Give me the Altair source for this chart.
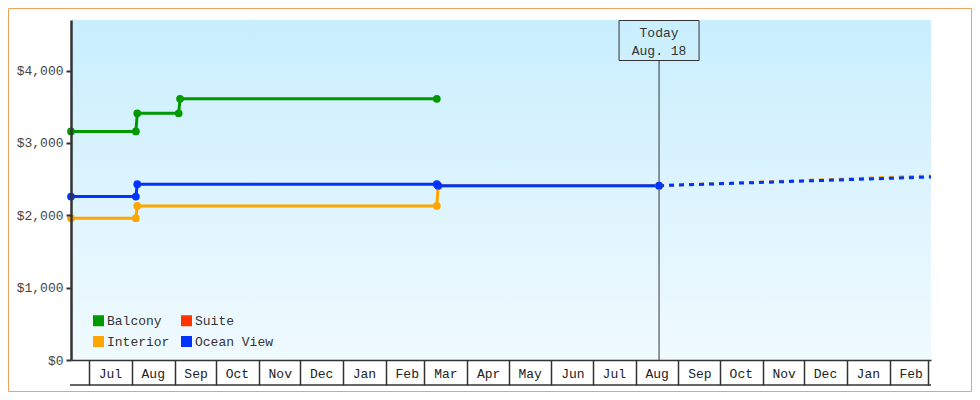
import altair as alt
import pandas as pd

# ---------------- data ----------------
cabins = ["Balcony", "Suite", "Interior", "Ocean View"]
cabin_colors = ["#009900", "#ff3300", "#ffa500", "#0033ff"]

balcony_dates = ["2021-06-18", "2021-08-04", "2021-08-05", "2021-09-04", "2021-09-05", "2022-03-10"]
balcony_prices = [3160, 3160, 3410, 3410, 3610, 3610]

interior_dates = ["2021-06-18", "2021-08-04", "2021-08-05", "2022-03-10", "2022-03-11", "2022-08-18"]
interior_prices = [1960, 1960, 2130, 2130, 2410, 2410]

ocean_dates = ["2021-06-18", "2021-08-04", "2021-08-05", "2022-03-10", "2022-03-11", "2022-08-18"]
ocean_prices = [2260, 2260, 2430, 2430, 2410, 2410]

forecast_dates = ["2022-08-18", "2023-03-03"]
interior_forecast = [2410, 2545]
ocean_forecast = [2410, 2530]

month_ticks = ["2021-07-01", "2021-08-01", "2021-09-01", "2021-10-01", "2021-11-01", "2021-12-01",
               "2022-01-01", "2022-02-01", "2022-03-01", "2022-04-01", "2022-05-01", "2022-06-01",
               "2022-07-01", "2022-08-01", "2022-09-01", "2022-10-01", "2022-11-01", "2022-12-01",
               "2023-01-01", "2023-02-01", "2023-03-01"]
x_domain = ["2021-06-18", "2023-03-03"]
y_ticks = [0, 1000, 2000, 3000, 4000]
y_max = 4700

today = "2022-08-18"
today_label = "Today\nAug. 18"

# ---------------- helpers ----------------
def ms(d):
    return int(pd.Timestamp(d, tz="UTC").timestamp() * 1000)

W, H = 860, 340
FONT = "Liberation Mono"

solid = pd.DataFrame({
    "date": balcony_dates + interior_dates + ocean_dates,
    "price": balcony_prices + interior_prices + ocean_prices,
    "cabin": ["Balcony"] * len(balcony_dates) + ["Interior"] * len(interior_dates)
             + ["Ocean View"] * len(ocean_dates),
})
forecast = pd.DataFrame({
    "date": forecast_dates + forecast_dates,
    "price": interior_forecast + ocean_forecast,
    "cabin": ["Interior"] * len(forecast_dates) + ["Ocean View"] * len(forecast_dates),
})
today_df = pd.DataFrame({"date": [today], "label": [today_label]})

last_tick = ms(month_ticks[-1])
x_scale = alt.Scale(type="utc", domain=[ms(x_domain[0]), ms(x_domain[1])], nice=False)
x_axis = alt.Axis(
    values=[ms(d) for d in month_ticks],
    labelExpr=f"datum.value >= {last_tick} ? '' : utcFormat(datum.value, '%b')",
    title=None, grid=False, zindex=1,
    tickSize=25, tickWidth=1.5, tickColor="#333",
    domainColor="#333", domainWidth=1.5,
    labelPadding=-12, labelBaseline="middle", labelAlign="center", labelOffset=21,
    labelFlush=False, labelOverlap=False, labelBound=False,
    labelFont=FONT, labelFontSize=13, labelColor="#222",
)
y_scale = alt.Scale(domain=[0, y_max], nice=False, zero=True)
y_axis = alt.Axis(
    values=y_ticks, format="$,.0f", title=None, grid=False, zindex=1,
    domainColor="#333", domainWidth=2.5,
    tickColor="#333", tickWidth=2, tickSize=5, labelPadding=3,
    labelFont=FONT, labelFontSize=13, labelColor="#444",
)
X = alt.X("date:T", scale=x_scale, axis=x_axis)
Y = alt.Y("price:Q", scale=y_scale, axis=y_axis)
color_scale = alt.Scale(domain=cabins, range=cabin_colors)
legend = alt.Legend(
    orient="none", legendX=21, legendY=294, columns=2, direction="horizontal", title=None,
    symbolType="square", symbolSize=121, symbolStrokeWidth=0, symbolOpacity=1,
    labelFont=FONT, labelFontSize=13, labelColor="#333", labelOffset=2,
    rowPadding=7, columnPadding=10, padding=0,
)
COLOR = alt.Color("cabin:N", scale=color_scale, legend=legend)

gradient = alt.Gradient(
    gradient="linear", x1=0, x2=0, y1=0, y2=1,
    stops=[alt.GradientStop(color="#c9eefd", offset=0),
           alt.GradientStop(color="#f0faff", offset=1)],
)

bg = alt.Chart(today_df).mark_rect(color=gradient).encode(
    x=alt.value(0), x2=alt.value(W), y=alt.value(0), y2=alt.value(H))

today_rule = alt.Chart(today_df).mark_rule(color="#333", strokeWidth=1).encode(
    x=alt.X("date:T", scale=x_scale), y=alt.value(40.7), y2=alt.value(H))
today_box = alt.Chart(today_df).mark_rect(
    xOffset=-40, x2Offset=40, fillOpacity=0, stroke="#333", strokeWidth=1).encode(
    x=alt.X("date:T", scale=x_scale), x2="date:T", y=alt.value(0.5), y2=alt.value(40.5))
today_text = alt.Chart(today_df).mark_text(
    lineBreak="\n", font=FONT, fontSize=13, color="#333", baseline="middle",
    align="center", lineHeight=18).encode(
    x=alt.X("date:T", scale=x_scale), y=alt.value(12.7), text="label:N")

points = alt.Chart(solid).mark_point(filled=True, size=60, opacity=1).encode(
    x=X, y=Y, color=COLOR)
lines = alt.Chart(solid).mark_line(strokeWidth=3).encode(x=X, y=Y, color=COLOR)
fc_lines = alt.Chart(forecast).mark_line(strokeWidth=3, strokeDash=[5, 5]).encode(
    x=X, y=Y, color=COLOR)

bottom_line = alt.Chart(today_df).mark_rule(color="#333", strokeWidth=1.5).encode(
    x=alt.value(-1), x2=alt.value(W), y=alt.value(H + 25))
border = alt.Chart(today_df).mark_rect(fillOpacity=0, stroke="#e8a65c", strokeWidth=1).encode(
    x=alt.value(-62.5), x2=alt.value(W + 40.5), y=alt.value(-11.5), y2=alt.value(H + 31.5))

chart = alt.layer(
    bg, today_rule, today_box, today_text, lines, fc_lines, points, bottom_line, border
).properties(
    width=W, height=H,
    padding={"left": 63, "top": 12, "right": 41, "bottom": 32},
    autosize=alt.AutoSizeParams(type="none"),
    background="white",
).configure_view(stroke=None)

chart.save("out.html", embed_options={"renderer": "svg", "actions": False})
